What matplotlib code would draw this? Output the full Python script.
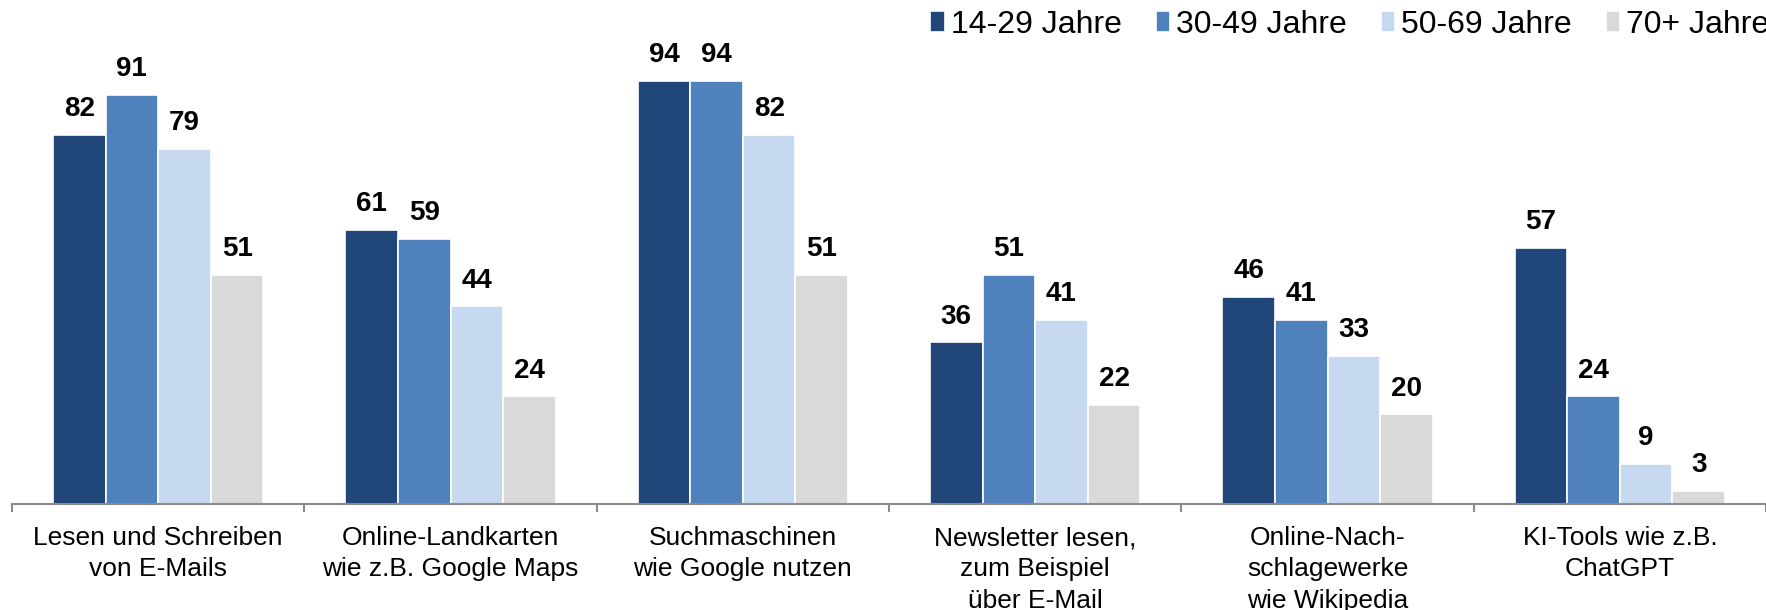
import numpy as np
import matplotlib.pyplot as plt

plt.rcParams["font.family"] = ["Liberation Sans", "DejaVu Sans"]

categories = [
    "Lesen und Schreiben\nvon E-Mails",
    "Online-Landkarten\nwie z.B. Google Maps",
    "Suchmaschinen\nwie Google nutzen",
    "Newsletter lesen,\nzum Beispiel\nüber E-Mail",
    "Online-Nach-\nschlagewerke\nwie Wikipedia",
    "KI-Tools wie z.B.\nChatGPT",
]
age_groups = ["14-29 Jahre", "30-49 Jahre", "50-69 Jahre", "70+ Jahre"]
values_14_29 = [82, 61, 94, 36, 46, 57]
values_30_49 = [91, 59, 94, 51, 41, 24]
values_50_69 = [79, 44, 82, 41, 33, 9]
values_70_plus = [51, 24, 51, 22, 20, 3]
colors = ["#21477a", "#4f81bd", "#c6d9f0", "#d9d9d9"]

series = [values_14_29, values_30_49, values_50_69, values_70_plus]

fig = plt.figure(figsize=(17.66, 6.10), dpi=100)
ax = fig.add_axes([12 / 1766, 106 / 610, 1754 / 1766, 450 / 610])

x = np.arange(len(categories))
width = 0.18
bars = []
for i, (vals, name, col) in enumerate(zip(series, age_groups, colors)):
    b = ax.bar(x + (i - 1.5) * width, vals, width, color=col,
               edgecolor="white", linewidth=1.2, label=name)
    ax.bar_label(b, padding=9, fontsize=20, fontweight="bold")
    bars.append(b)

ax.set_xlim(-0.5, 5.466)
ax.set_ylim(0, 100)

for side in ["top", "right", "left"]:
    ax.spines[side].set_visible(False)
ax.spines["bottom"].set_color("#8c8c8c")
ax.spines["bottom"].set_linewidth(1.5)
ax.set_yticks([])

# category names centred under groups, tick marks between groups
ax.set_xticks(x)
ax.set_xticklabels(categories, fontsize=19, linespacing=1.38)
ax.tick_params(axis="x", which="major", length=0, pad=16)
ax.set_xticks(np.arange(len(categories) + 1) - 0.5, minor=True)
ax.tick_params(axis="x", which="minor", length=6, width=1.5, color="#8c8c8c")

fig.legend(handles=bars, labels=age_groups, loc="upper right",
           bbox_to_anchor=(1.002, 0.984), ncol=4, frameon=False, fontsize=23,
           handlelength=0.45, handleheight=0.6, handletextpad=0.2,
           columnspacing=1.05, borderpad=0.0, borderaxespad=0.0)

fig.savefig("out.png", dpi=100)
